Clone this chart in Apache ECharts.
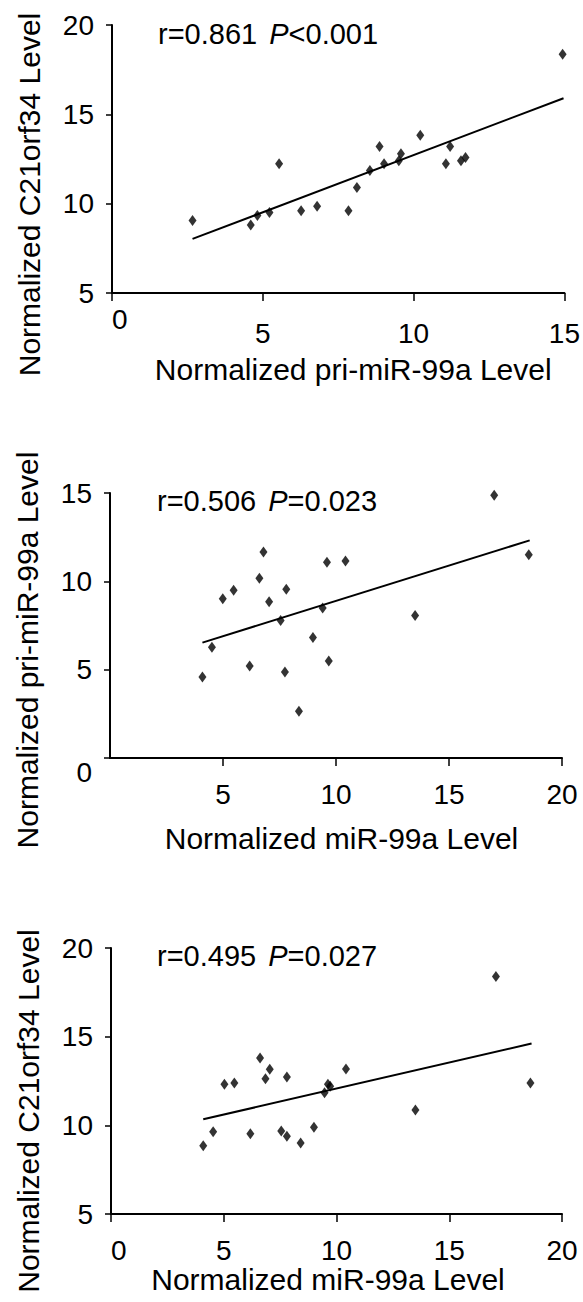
<!DOCTYPE html>
<html>
<head>
<meta charset="utf-8">
<script src="https://cdn.jsdelivr.net/npm/echarts@6/dist/echarts.min.js"></script>
<style>
  html, body { margin: 0; padding: 0; background: #fff; }
  #chart { width: 583px; height: 1302px; }
</style>
</head>
<body>
<div id="chart"></div>
<script>
(function() {
  var font = '"Liberation Sans", Arial, sans-serif';
  var ink = '#000';

  // Panel 1: pri-miR-99a (x) vs C21orf34 (y)
  var p1X = [2.67, 4.60, 4.82, 5.22, 5.54, 6.27, 6.80, 7.84, 8.12, 8.55, 8.87, 9.02, 9.51, 9.58, 10.22, 11.07, 11.21, 11.57, 11.72, 14.94];
  var p1Y = [9.06, 8.80, 9.34, 9.50, 12.23, 9.60, 9.86, 9.60, 10.90, 11.85, 13.20, 12.23, 12.40, 12.80, 13.83, 12.23, 13.20, 12.40, 12.58, 18.36];
  var p1FitX = [2.67, 14.97];
  var p1FitY = [8.03, 15.90];

  // Panel 2: miR-99a (x) vs pri-miR-99a (y)
  var p2X = [4.09, 4.51, 4.99, 5.47, 6.18, 6.61, 6.79, 7.04, 7.55, 7.74, 7.80, 8.36, 8.98, 9.41, 9.60, 9.68, 10.42, 13.50, 17.00, 18.53];
  var p2Y = [4.59, 6.27, 9.02, 9.50, 5.21, 10.17, 11.66, 8.85, 7.78, 4.87, 9.55, 2.65, 6.82, 8.49, 11.08, 5.49, 11.15, 8.06, 14.87, 11.51];
  var p2FitX = [4.09, 18.57];
  var p2FitY = [6.53, 12.32];

  // Panel 3: miR-99a (x) vs C21orf34 (y)
  var p3X = [4.09, 4.53, 5.03, 5.47, 6.18, 6.61, 6.85, 7.04, 7.55, 7.80, 7.80, 8.41, 9.00, 9.47, 9.62, 9.72, 10.42, 13.50, 17.07, 18.60];
  var p3Y = [8.85, 9.64, 12.31, 12.39, 9.53, 13.80, 12.63, 13.16, 9.68, 12.73, 9.38, 9.00, 9.89, 11.84, 12.31, 12.20, 13.18, 10.86, 18.39, 12.39];
  var p3FitX = [4.09, 18.65];
  var p3FitY = [10.34, 14.61];

  var xNames = ['Normalized pri-miR-99a Level', 'Normalized miR-99a Level', 'Normalized miR-99a Level'];
  var yNames = ['Normalized C21orf34 Level', 'Normalized pri-miR-99a Level', 'Normalized C21orf34 Level'];
  var xRanges = [[0, 15], [0, 20], [0, 20]];
  var yRanges = [[5, 20], [0, 15], [5, 20]];
  var stats = [['r=0.861 ', 'P', '<0.001'], ['r=0.506 ', 'P', '=0.023'], ['r=0.495 ', 'P', '=0.027']];

  var grids = [
    { left: 112, top: 25, width: 453, height: 268 },
    { left: 110, top: 493, width: 452, height: 265 },
    { left: 111, top: 948, width: 451, height: 266 }
  ];
  var xNameGap = [61, 65, 50];
  var xNamePad = [[0, 0, 0, 30], [0, 0, 0, 11], [0, 17, 0, 0]];
  var yNamePad = [[0, 71, 0, 0], [0, 49, 0, 0], [0, 60, 0, 0]];
  var xLabelMargin = [26, 22, 22];
  var statPos = [[158, 19], [157, 486], [157, 941]];

  function pairs(xs, ys) {
    return xs.map(function(x, i) { return [x, ys[i]]; });
  }

  var axisLine = { lineStyle: { color: ink, width: 2 } };

  var xAxes = [], yAxes = [], series = [], graphics = [];
  var pts = [pairs(p1X, p1Y), pairs(p2X, p2Y), pairs(p3X, p3Y)];
  var fits = [pairs(p1FitX, p1FitY), pairs(p2FitX, p2FitY), pairs(p3FitX, p3FitY)];

  for (var i = 0; i < 3; i++) {
    xAxes.push({
      gridIndex: i, type: 'value',
      min: xRanges[i][0], max: xRanges[i][1], interval: 5,
      name: xNames[i], nameLocation: 'middle', nameGap: xNameGap[i],
      nameTextStyle: { color: ink, fontSize: 30, fontFamily: font, padding: xNamePad[i] },
      axisLine: axisLine,
      axisTick: { length: 8, lineStyle: { color: ink, width: 1.5 } },
      axisLabel: {
        color: ink, fontSize: 28, fontFamily: font, margin: xLabelMargin[i],
        showMinLabel: i !== 1, alignMinLabel: 'left',
        verticalAlignMinLabel: i === 0 ? 'middle' : 'top'
      },
      splitLine: { show: false }
    });
    yAxes.push({
      gridIndex: i, type: 'value',
      min: yRanges[i][0], max: yRanges[i][1], interval: 5,
      name: yNames[i], nameLocation: 'middle', nameGap: 68,
      nameTextStyle: { color: ink, fontSize: 30, fontFamily: font, padding: yNamePad[i] },
      axisLine: axisLine,
      axisTick: { length: 6, lineStyle: { color: ink, width: 1.5 } },
      axisLabel: {
        color: ink, fontSize: 28, fontFamily: font, margin: 18,
        verticalAlignMinLabel: i === 1 ? 'top' : 'middle'
      },
      splitLine: { show: false }
    });
    series.push({
      type: 'scatter', xAxisIndex: i, yAxisIndex: i,
      data: pts[i], symbol: 'diamond', symbolSize: [8, 11],
      itemStyle: { color: ink }, silent: true
    });
    series.push({
      type: 'line', xAxisIndex: i, yAxisIndex: i,
      data: fits[i], symbol: 'none',
      lineStyle: { color: ink, width: 2 }, silent: true
    });
    graphics.push({
      type: 'text', left: statPos[i][0], top: statPos[i][1],
      style: {
        text: '{n|' + stats[i][0] + '}{i|' + stats[i][1] + '}{n|' + stats[i][2] + '}',
        rich: {
          n: { fontSize: 29, fontFamily: font, fill: ink },
          i: { fontSize: 29, fontFamily: font, fontStyle: 'italic', fill: ink, padding: [0, 0, 0, 4] }
        }
      }
    });
  }

  var chart = echarts.init(document.getElementById('chart'), null, { renderer: 'svg' });
  chart.setOption({
    animation: false,
    backgroundColor: '#fff',
    grid: grids,
    xAxis: xAxes,
    yAxis: yAxes,
    series: series,
    graphic: graphics
  });
  window.addEventListener('resize', function() { chart.resize(); });
})();
</script>
</body>
</html>
